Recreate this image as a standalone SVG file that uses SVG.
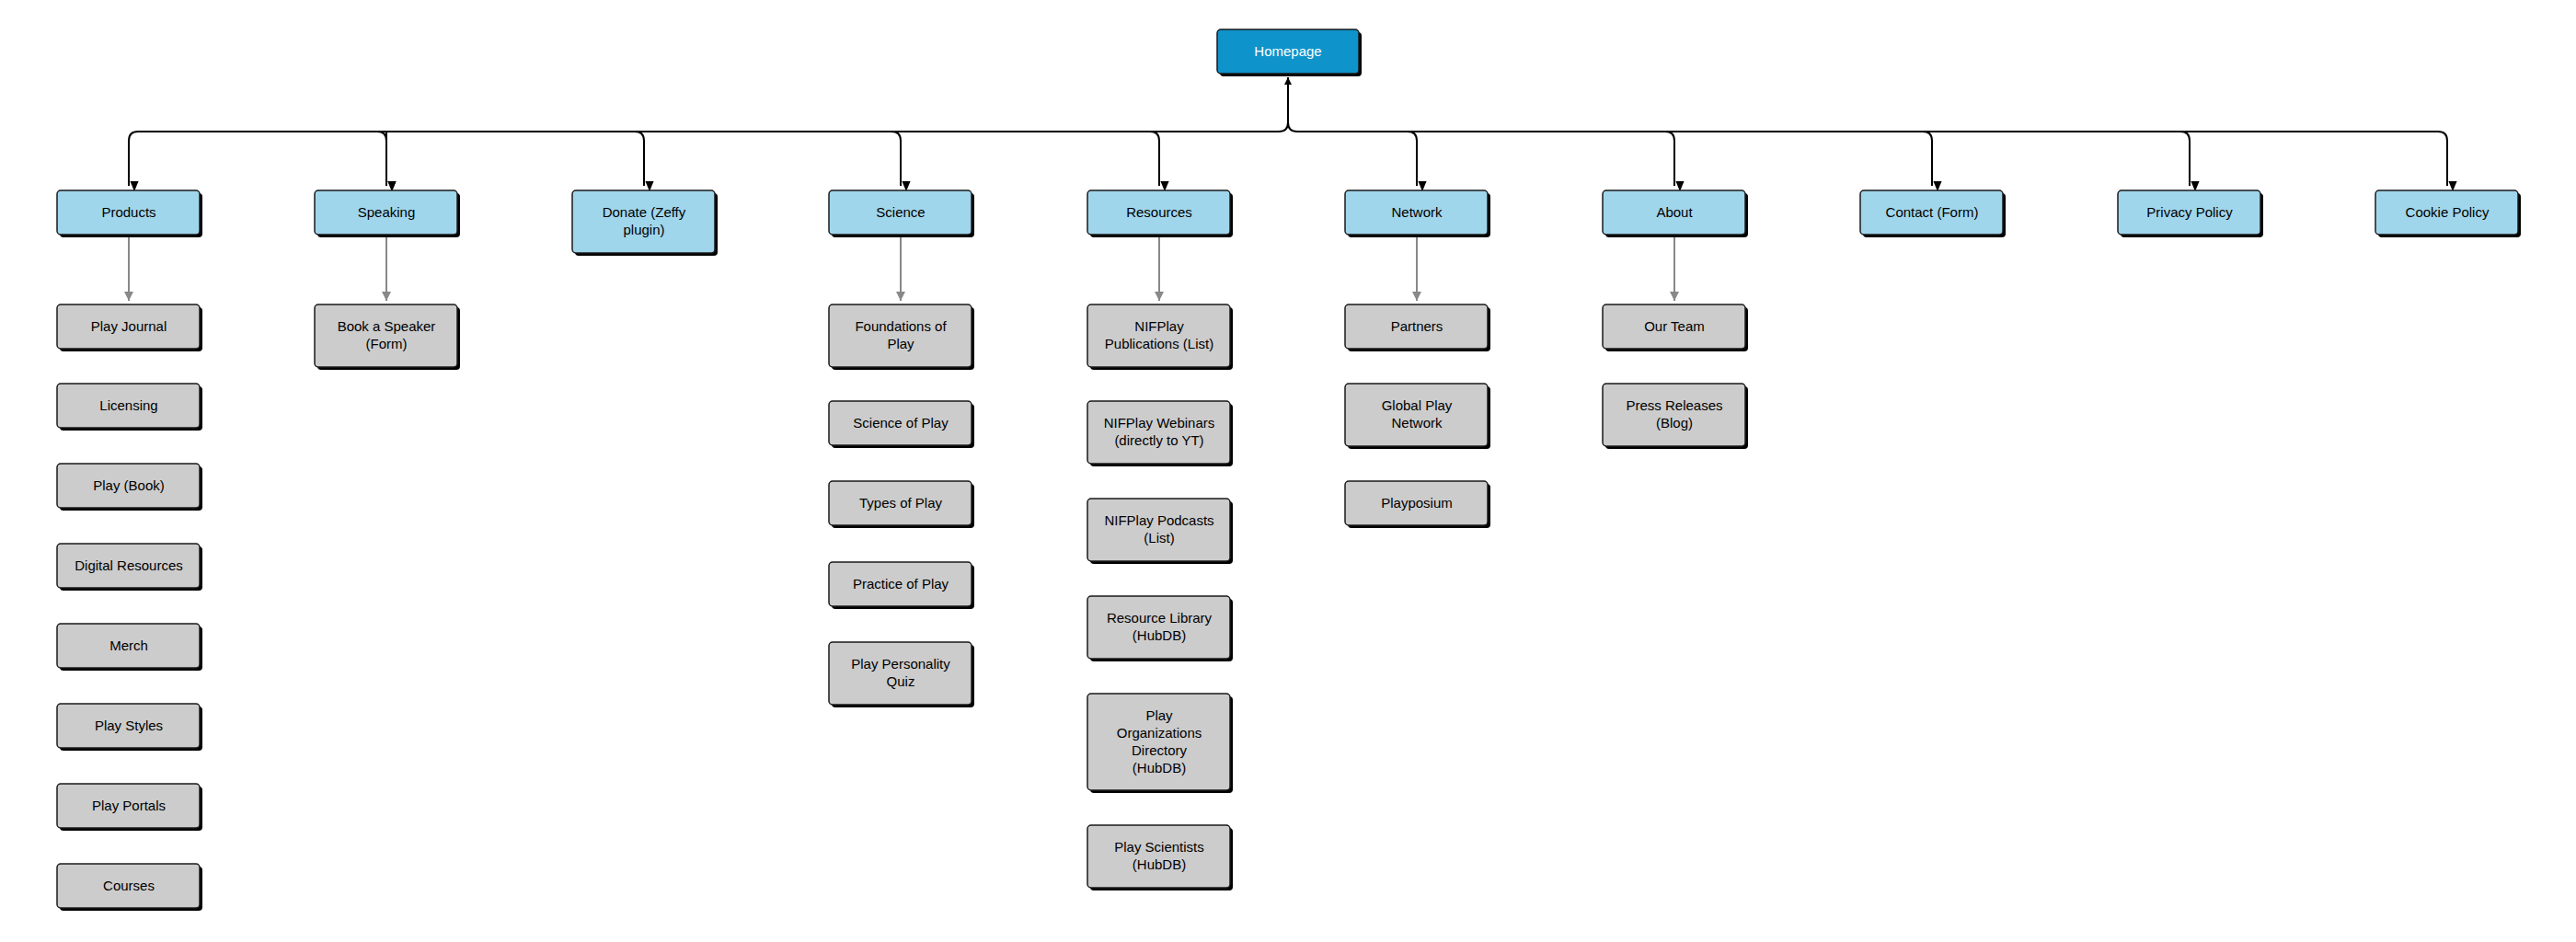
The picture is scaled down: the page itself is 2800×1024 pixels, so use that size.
<svg xmlns="http://www.w3.org/2000/svg" width="2800" height="1024" viewBox="0 0 2800 1024">
<style>
text{font-family:"Liberation Sans",Arial,sans-serif;font-size:15px;text-anchor:middle;fill:#000}
.sh{fill:#000}
.l0{fill:#0f93cb;stroke:#1a1a1a;stroke-width:1.5}
.l1{fill:#a0d6ec;stroke:#1a1a1a;stroke-width:1.5}
.l2{fill:#cccccc;stroke:#1a1a1a;stroke-width:1.5}
.c1{fill:none;stroke:#000;stroke-width:2;marker-end:url(#ab)}
.c2{fill:none;stroke:#888;stroke-width:2;marker-end:url(#ag)}
</style>
<defs>
<marker id="ab" markerWidth="10" markerHeight="12" refX="5" refY="12" orient="auto-start-reverse" markerUnits="userSpaceOnUse" viewBox="0 0 10 12"><path d="M0,0 L10,0 L5,12 Z" fill="#000" transform="rotate(-90 5 6)"/></marker>
<marker id="ag" markerWidth="10" markerHeight="14" refX="10" refY="5" orient="auto" markerUnits="userSpaceOnUse" viewBox="0 0 10 10"><path d="M0,0 L10,5 L0,10 Z" fill="#888"/></marker>
</defs>
<g id="connectors">
<path d="M1400,84 L1396,92 L1404,92 Z" fill="#000"/>
<path class="c1" d="M1400,84 V133 Q1400,143 1390,143 H150 Q140,143 140,153 V202"/>
<path class="c1" d="M420,143 Q420,143 420,153 V202"/>
<path class="c1" d="M410,143 Q420,143 420,153 V202"/>
<path class="c1" d="M690,143 Q700,143 700,153 V202"/>
<path class="c1" d="M969,143 Q979,143 979,153 V202"/>
<path class="c1" d="M1250,143 Q1260,143 1260,153 V202"/>
<path class="c1" d="M1400,133 Q1400,143 1410,143 H2650 Q2660,143 2660,153 V202"/>
<path class="c1" d="M1530,143 Q1540,143 1540,153 V202"/>
<path class="c1" d="M1810,143 Q1820,143 1820,153 V202"/>
<path class="c1" d="M2090,143 Q2100,143 2100,153 V202"/>
<path class="c1" d="M2370,143 Q2380,143 2380,153 V202"/>
<path class="c2" d="M140,257 V327"/>
<path class="c2" d="M420,257 V327"/>
<path class="c2" d="M979,257 V327"/>
<path class="c2" d="M1260,257 V327"/>
<path class="c2" d="M1540,257 V327"/>
<path class="c2" d="M1820,257 V327"/>
</g>
<g id="homepage"><rect class="sh" x="1326" y="35" width="154" height="48" rx="4"/><rect class="l0" x="1323" y="32" width="154" height="48" rx="4"/><text x="1400" y="61" fill="#fff" style="fill:#fff">Homepage</text></g>
<g id="products"><rect class="sh" x="65" y="210" width="155" height="48" rx="4"/><rect class="l1" x="62" y="207" width="155" height="48" rx="4"/><text x="140" y="236">Products</text></g>
<g id="speaking"><rect class="sh" x="345" y="210" width="155" height="48" rx="4"/><rect class="l1" x="342" y="207" width="155" height="48" rx="4"/><text x="420" y="236">Speaking</text></g>
<g id="donate"><rect class="sh" x="625" y="210" width="155" height="68" rx="4"/><rect class="l1" x="622" y="207" width="155" height="68" rx="4"/><text x="700" y="236">Donate (Zeffy</text><text x="700" y="255">plugin)</text></g>
<g id="science"><rect class="sh" x="904" y="210" width="155" height="48" rx="4"/><rect class="l1" x="901" y="207" width="155" height="48" rx="4"/><text x="979" y="236">Science</text></g>
<g id="resources"><rect class="sh" x="1185" y="210" width="155" height="48" rx="4"/><rect class="l1" x="1182" y="207" width="155" height="48" rx="4"/><text x="1260" y="236">Resources</text></g>
<g id="network"><rect class="sh" x="1465" y="210" width="155" height="48" rx="4"/><rect class="l1" x="1462" y="207" width="155" height="48" rx="4"/><text x="1540" y="236">Network</text></g>
<g id="about"><rect class="sh" x="1745" y="210" width="155" height="48" rx="4"/><rect class="l1" x="1742" y="207" width="155" height="48" rx="4"/><text x="1820" y="236">About</text></g>
<g id="contact"><rect class="sh" x="2025" y="210" width="155" height="48" rx="4"/><rect class="l1" x="2022" y="207" width="155" height="48" rx="4"/><text x="2100" y="236">Contact (Form)</text></g>
<g id="privacy"><rect class="sh" x="2305" y="210" width="155" height="48" rx="4"/><rect class="l1" x="2302" y="207" width="155" height="48" rx="4"/><text x="2380" y="236">Privacy Policy</text></g>
<g id="cookie"><rect class="sh" x="2585" y="210" width="155" height="48" rx="4"/><rect class="l1" x="2582" y="207" width="155" height="48" rx="4"/><text x="2660" y="236">Cookie Policy</text></g>

<g id="play-journal"><rect class="sh" x="65" y="334" width="155" height="48" rx="4"/><rect class="l2" x="62" y="331" width="155" height="48" rx="4"/><text x="140" y="360">Play Journal</text></g>
<g id="licensing"><rect class="sh" x="65" y="420" width="155" height="48" rx="4"/><rect class="l2" x="62" y="417" width="155" height="48" rx="4"/><text x="140" y="446">Licensing</text></g>
<g id="play-book"><rect class="sh" x="65" y="507" width="155" height="48" rx="4"/><rect class="l2" x="62" y="504" width="155" height="48" rx="4"/><text x="140" y="533">Play (Book)</text></g>
<g id="digital"><rect class="sh" x="65" y="594" width="155" height="48" rx="4"/><rect class="l2" x="62" y="591" width="155" height="48" rx="4"/><text x="140" y="620">Digital Resources</text></g>
<g id="merch"><rect class="sh" x="65" y="681" width="155" height="48" rx="4"/><rect class="l2" x="62" y="678" width="155" height="48" rx="4"/><text x="140" y="707">Merch</text></g>
<g id="play-styles"><rect class="sh" x="65" y="768" width="155" height="48" rx="4"/><rect class="l2" x="62" y="765" width="155" height="48" rx="4"/><text x="140" y="794">Play Styles</text></g>
<g id="play-portals"><rect class="sh" x="65" y="855" width="155" height="48" rx="4"/><rect class="l2" x="62" y="852" width="155" height="48" rx="4"/><text x="140" y="881">Play Portals</text></g>
<g id="courses"><rect class="sh" x="65" y="942" width="155" height="48" rx="4"/><rect class="l2" x="62" y="939" width="155" height="48" rx="4"/><text x="140" y="968">Courses</text></g>

<g id="book-speaker"><rect class="sh" x="345" y="334" width="155" height="68" rx="4"/><rect class="l2" x="342" y="331" width="155" height="68" rx="4"/><text x="420" y="360">Book a Speaker</text><text x="420" y="379">(Form)</text></g>

<g id="foundations"><rect class="sh" x="904" y="334" width="155" height="68" rx="4"/><rect class="l2" x="901" y="331" width="155" height="68" rx="4"/><text x="979" y="360">Foundations of</text><text x="979" y="379">Play</text></g>
<g id="science-of-play"><rect class="sh" x="904" y="439" width="155" height="48" rx="4"/><rect class="l2" x="901" y="436" width="155" height="48" rx="4"/><text x="979" y="465">Science of Play</text></g>
<g id="types"><rect class="sh" x="904" y="526" width="155" height="48" rx="4"/><rect class="l2" x="901" y="523" width="155" height="48" rx="4"/><text x="979" y="552">Types of Play</text></g>
<g id="practice"><rect class="sh" x="904" y="614" width="155" height="48" rx="4"/><rect class="l2" x="901" y="611" width="155" height="48" rx="4"/><text x="979" y="640">Practice of Play</text></g>
<g id="quiz"><rect class="sh" x="904" y="701" width="155" height="68" rx="4"/><rect class="l2" x="901" y="698" width="155" height="68" rx="4"/><text x="979" y="727">Play Personality</text><text x="979" y="746">Quiz</text></g>

<g id="publications"><rect class="sh" x="1185" y="334" width="155" height="68" rx="4"/><rect class="l2" x="1182" y="331" width="155" height="68" rx="4"/><text x="1260" y="360">NIFPlay</text><text x="1260" y="379">Publications (List)</text></g>
<g id="webinars"><rect class="sh" x="1185" y="439" width="155" height="68" rx="4"/><rect class="l2" x="1182" y="436" width="155" height="68" rx="4"/><text x="1260" y="465">NIFPlay Webinars</text><text x="1260" y="484">(directly to YT)</text></g>
<g id="podcasts"><rect class="sh" x="1185" y="545" width="155" height="68" rx="4"/><rect class="l2" x="1182" y="542" width="155" height="68" rx="4"/><text x="1260" y="571">NIFPlay Podcasts</text><text x="1260" y="590">(List)</text></g>
<g id="library"><rect class="sh" x="1185" y="651" width="155" height="68" rx="4"/><rect class="l2" x="1182" y="648" width="155" height="68" rx="4"/><text x="1260" y="677">Resource Library</text><text x="1260" y="696">(HubDB)</text></g>
<g id="directory"><rect class="sh" x="1185" y="757" width="155" height="105" rx="4"/><rect class="l2" x="1182" y="754" width="155" height="105" rx="4"/><text x="1260" y="783">Play</text><text x="1260" y="802">Organizations</text><text x="1260" y="821">Directory</text><text x="1260" y="840">(HubDB)</text></g>
<g id="scientists"><rect class="sh" x="1185" y="900" width="155" height="68" rx="4"/><rect class="l2" x="1182" y="897" width="155" height="68" rx="4"/><text x="1260" y="926">Play Scientists</text><text x="1260" y="945">(HubDB)</text></g>

<g id="partners"><rect class="sh" x="1465" y="334" width="155" height="48" rx="4"/><rect class="l2" x="1462" y="331" width="155" height="48" rx="4"/><text x="1540" y="360">Partners</text></g>
<g id="global"><rect class="sh" x="1465" y="420" width="155" height="68" rx="4"/><rect class="l2" x="1462" y="417" width="155" height="68" rx="4"/><text x="1540" y="446">Global Play</text><text x="1540" y="465">Network</text></g>
<g id="playposium"><rect class="sh" x="1465" y="526" width="155" height="48" rx="4"/><rect class="l2" x="1462" y="523" width="155" height="48" rx="4"/><text x="1540" y="552">Playposium</text></g>

<g id="our-team"><rect class="sh" x="1745" y="334" width="155" height="48" rx="4"/><rect class="l2" x="1742" y="331" width="155" height="48" rx="4"/><text x="1820" y="360">Our Team</text></g>
<g id="press"><rect class="sh" x="1745" y="420" width="155" height="68" rx="4"/><rect class="l2" x="1742" y="417" width="155" height="68" rx="4"/><text x="1820" y="446">Press Releases</text><text x="1820" y="465">(Blog)</text></g>
</svg>
